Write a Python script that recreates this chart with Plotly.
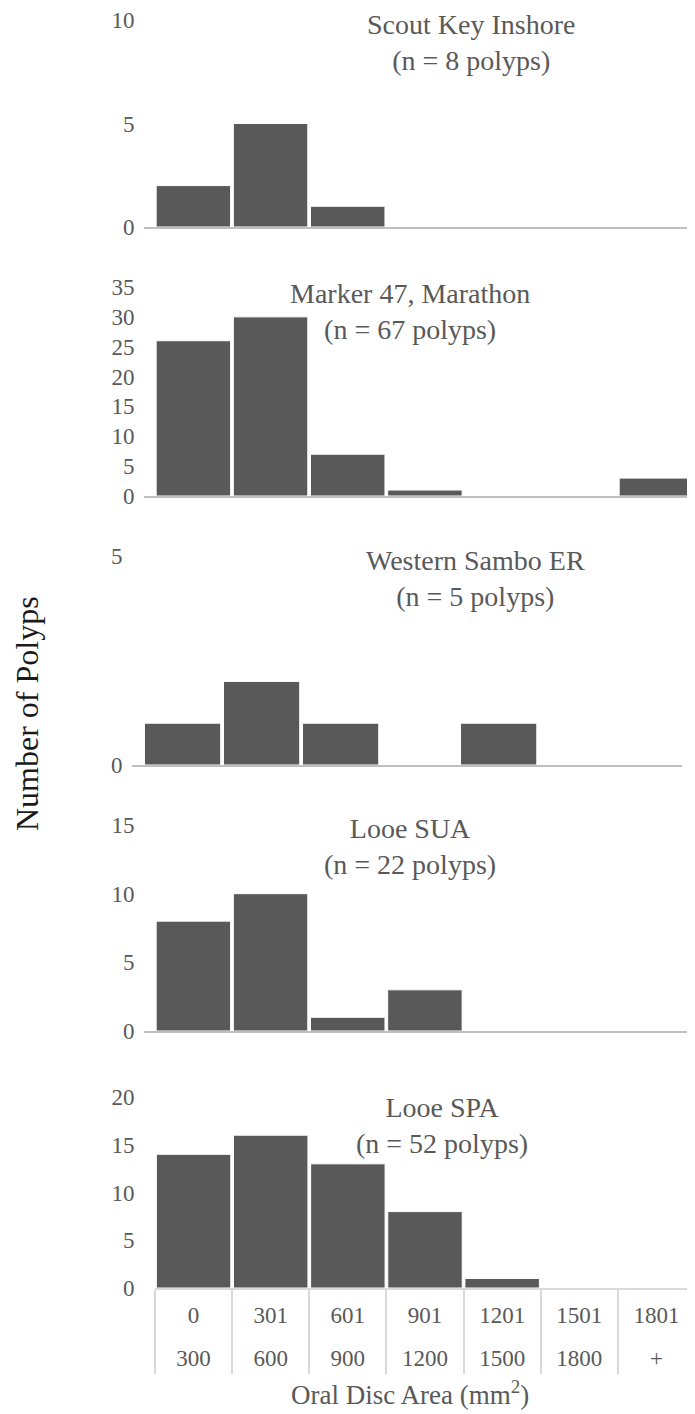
import plotly.graph_objects as go

# ---------------- data ----------------
bin_low = ["0", "301", "601", "901", "1201", "1501", "1801"]
bin_high = ["300", "600", "900", "1200", "1500", "1800", "+"]

sites = ["Scout Key Inshore", "Marker 47, Marathon", "Western Sambo ER", "Looe SUA", "Looe SPA"]
n_polyps = [8, 67, 5, 22, 52]

scout_key = [2, 5, 1, 0, 0, 0, 0]
marker_47 = [26, 30, 7, 1, 0, 0, 3]
western_sambo = [1, 2, 1, 0, 1, 0, 0]
looe_sua = [8, 10, 1, 3, 0, 0, 0]
looe_spa = [14, 16, 13, 8, 1, 0, 0]

y_max = [10, 35, 5, 15, 20]
y_dtick = [5, 5, 5, 5, 5]

series = [scout_key, marker_47, western_sambo, looe_sua, looe_spa]

# ---------------- layout helpers ----------------
# the page body has an 8px margin, so the figure starts at (8, 8) in the window
OFF = 8
W, H = 695 - OFF, 1414 - OFF
FONT = "Liberation Serif, Times New Roman, serif"
TXT = "#595959"
BAR = "#595959"
TICK = 23


def py(px):
    return 1 - (px - OFF) / H


def pxx(px):
    return (px - OFF) / W


# panel geometry in window pixels: (top, bottom, left, right, xrange)
panels = [
    (20, 227, 144, 695, [-0.64, 6.5]),
    (287, 496, 144, 695, [-0.64, 6.5]),
    (556, 765, 132, 682, [-0.64, 6.32]),
    (825, 1031, 144, 695, [-0.64, 6.5]),
    (1097, 1288, 155, 695, [-0.5, 6.5]),
]
title_pos = [(471, 42), (410, 311), (475, 578), (410, 847), (442, 1125)]

fig = go.Figure()
layout = dict(
    width=W, height=H,
    margin=dict(l=0, r=0, t=0, b=0, autoexpand=False),
    paper_bgcolor="white", plot_bgcolor="white",
    showlegend=False, bargap=0.035,
    font=dict(family=FONT, color=TXT, size=TICK),
)

for i, (vals, (top, bot, left, right, xr)) in enumerate(zip(series, panels)):
    k = "" if i == 0 else str(i + 1)
    last = i == len(series) - 1
    fig.add_trace(go.Bar(
        x=bin_low, y=vals, xaxis="x" + k, yaxis="y" + k,
        marker=dict(color=BAR, line=dict(color="white", width=1)),
        customdata=bin_high,
        hovertemplate="%{x}-%{customdata}: %{y}<extra></extra>",
    ))
    xa = dict(
        domain=[pxx(left), pxx(right)], anchor="y" + k, range=xr, type="category",
        showline=True, linecolor="#d9d9d9" if last else "#bfbfbf", linewidth=1.5,
        showgrid=False, zeroline=False, fixedrange=True, automargin=False,
        showticklabels=False, ticks="",
    )
    if last:
        # vertical dividers at the category boundaries
        xa.update(tickson="boundaries", ticks="outside", ticklen=84,
                  tickcolor="#d9d9d9", tickwidth=1.5)
    ya = dict(
        domain=[py(bot), py(top)], anchor="x" + k, range=[0, y_max[i]],
        dtick=y_dtick[i], tick0=0, showgrid=False, zeroline=False, showline=False,
        ticks="outside", tickcolor="rgba(0,0,0,0)", ticklen=15 if last else 4,
        tickfont=dict(size=TICK, color=TXT, family=FONT), fixedrange=True,
        automargin=False, ticklabeloverflow="allow",
    )
    if i == 2:
        ya.update(tickvals=[0, 5])
    layout["xaxis" + k] = xa
    layout["yaxis" + k] = ya

# two rows of bin labels under the bottom panel (label-only axes, no visible marks)
bot_left, bot_right = panels[-1][2], panels[-1][3]
for ax_id, labels, standoff in (("6", bin_low, 6), ("7", bin_high, 49)):
    fig.add_trace(go.Scatter(
        x=labels, y=looe_spa, mode="none", xaxis="x" + ax_id, yaxis="y5",
        hoverinfo="skip", showlegend=False,
    ))
    layout["xaxis" + ax_id] = dict(
        overlaying="x5", anchor="y5", domain=[pxx(bot_left), pxx(bot_right)],
        type="category", range=[-0.5, len(labels) - 0.5],
        ticks="outside", ticklen=standoff, tickcolor="rgba(0,0,0,0)",
        showline=False, showgrid=False, zeroline=False, fixedrange=True,
        automargin=False, ticklabeloverflow="allow",
        tickfont=dict(size=TICK, color=TXT, family=FONT),
    )

annotations = []
for (cx, cy), name, n in zip(title_pos, sites, n_polyps):
    annotations.append(dict(
        text=f"{name}<br>(n = {n} polyps)", x=pxx(cx), y=py(cy),
        xref="paper", yref="paper", showarrow=False,
        xanchor="center", yanchor="middle",
        font=dict(size=28, color=TXT, family=FONT),
    ))
annotations.append(dict(
    text="Oral Disc Area (mm<sup>2</sup>)", x=pxx(410), y=py(1393),
    xref="paper", yref="paper", showarrow=False, xanchor="center", yanchor="middle",
    font=dict(size=27, color=TXT, family=FONT),
))
annotations.append(dict(
    text="Number of Polyps", x=pxx(27), y=py(714), textangle=-90,
    xref="paper", yref="paper", showarrow=False, xanchor="center", yanchor="middle",
    font=dict(size=32, color="#1a1a1a", family=FONT),
))
layout["annotations"] = annotations

fig.update_layout(**layout)
fig.write_html("out.html")
